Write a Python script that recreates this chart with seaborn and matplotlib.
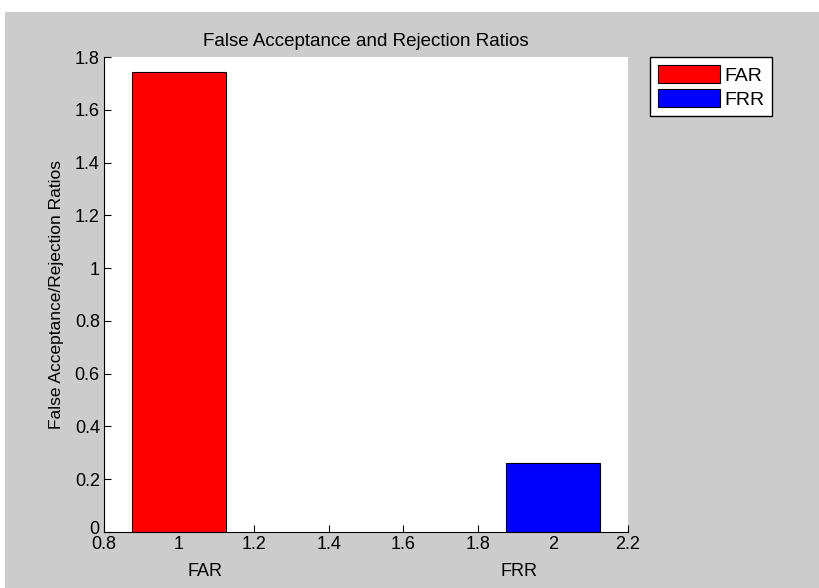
import matplotlib
matplotlib.use("Agg")
import matplotlib.pyplot as plt
import seaborn as sns
import pandas as pd
from matplotlib.patches import Rectangle
from matplotlib.transforms import blended_transform_factory, ScaledTranslation

positions = [1, 2]
ratios = [1.743, 0.261]
labels = ["FAR", "FRR"]
colors = ["#ff0000", "#0000ff"]
xticks = [0.8, 1, 1.2, 1.4, 1.6, 1.8, 2, 2.2]
xticklabels = ["0.8", "1", "1.2", "1.4", "1.6", "1.8", "2", "2.2"]
yticks = [0, 0.2, 0.4, 0.6, 0.8, 1, 1.2, 1.4, 1.6, 1.8]
yticklabels = ["0", "0.2", "0.4", "0.6", "0.8", "1", "1.2", "1.4", "1.6", "1.8"]

sns.set_style("ticks")
plt.rcParams["font.family"] = ["Liberation Sans", "DejaVu Sans"]
plt.rcParams["xtick.direction"] = "in"
plt.rcParams["ytick.direction"] = "in"
for k in ["text.color", "axes.labelcolor", "xtick.color", "ytick.color", "axes.edgecolor"]:
    plt.rcParams[k] = "black"

df = pd.DataFrame({"pos": positions, "ratio": ratios, "label": labels})

fig = plt.figure(figsize=(8.2, 5.88), dpi=100, facecolor="#cccccc")
fig.add_artist(Rectangle((0, 1 - 12 / 588), 1, 12 / 588, transform=fig.transFigure,
                         facecolor="white", edgecolor="none"))
fig.add_artist(Rectangle((0, 0), 5 / 820, 1, transform=fig.transFigure,
                         facecolor="white", edgecolor="none"))
ax = fig.add_axes([104 / 820, 56 / 588, 524 / 820, 475 / 588])

sns.barplot(data=df, x="pos", y="ratio", hue="label", palette=colors,
            native_scale=True, width=0.25, edgecolor="black", linewidth=0.8,
            saturation=1, dodge=False, ax=ax)

ax.set_xlim(0.8, 2.2)
ax.set_ylim(0, 1.8)
ax.set_xticks(xticks)
ax.set_xticklabels(xticklabels)
ax.set_yticks(yticks)
ax.set_yticklabels(yticklabels)
ax.tick_params(labelsize=13, length=5, width=0.8)
ax.tick_params(axis="x", pad=3)
ax.tick_params(axis="y", pad=3)
ax.set_xlabel("")
ax.set_ylabel("False Acceptance/Rejection Ratios", fontsize=12.5, labelpad=8)
ax.set_title("False Acceptance and Rejection Ratios", fontsize=13.5, pad=8)
sns.despine(ax=ax)
for s in ["left", "bottom"]:
    ax.spines[s].set_linewidth(0.8)

# lift the "0" label a little so it clears "0.8"
zero_lab = ax.get_yticklabels()[0]
zero_lab.set_transform(zero_lab.get_transform() + ScaledTranslation(0, 3 / 72, fig.dpi_scale_trans))

# category names written under the axis
trans = blended_transform_factory(ax.transData, ax.transAxes)
for xp, lab in zip([1.07, 1.91], labels):
    ax.text(xp, -0.065, lab, transform=trans, ha="center", va="top", fontsize=13)

leg = ax.legend(loc="upper left", bbox_to_anchor=(1.042, 1.0), frameon=True,
                fancybox=False, edgecolor="black", facecolor="white", framealpha=1,
                prop={"family": "Liberation Sans", "size": 14},
                handlelength=3.2, handleheight=1.1, handletextpad=0.2,
                borderpad=0.4, labelspacing=0.2, borderaxespad=0)
leg.get_frame().set_linewidth(1.0)

fig.savefig("out.png", dpi=100, facecolor=fig.get_facecolor())
